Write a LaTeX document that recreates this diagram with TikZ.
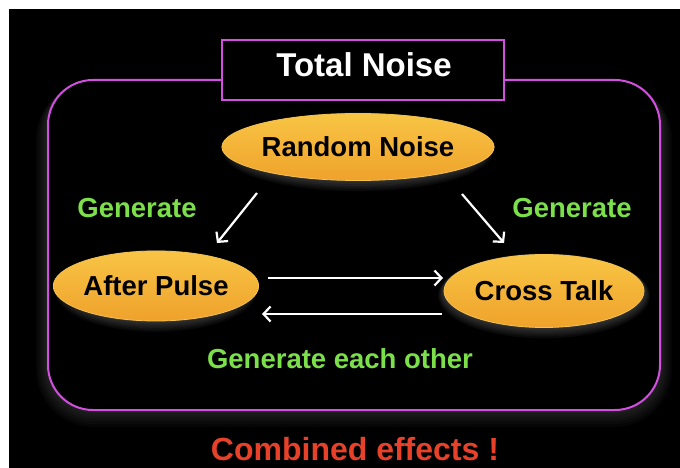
\documentclass[tikz,border=0pt]{standalone}
\usepackage{fontspec}
\setmainfont{Liberation Sans}
\usetikzlibrary{shapes.geometric,arrows.meta}
\definecolor{mag}{HTML}{D24FE0}
\definecolor{lgreen}{HTML}{7BE04A}
\definecolor{lred}{HTML}{E8412A}
\definecolor{otop}{HTML}{F8C545}
\definecolor{obot}{HTML}{EFA22B}
\definecolor{oedge}{HTML}{F6C24E}
\begin{document}
\begin{tikzpicture}[x=1pt,y=-1pt,
  bubble/.style={ellipse, draw=oedge, line width=0.8pt, top color=otop, bottom color=obot,
    inner sep=0pt, text=black, font=\bfseries\fontsize{27.5}{30}\selectfont},
  halo/.style={ellipse, fill=white, opacity=0.035, inner sep=0pt},
  lbl/.style={font=\bfseries\fontsize{27.5}{30}\selectfont, text=lgreen, anchor=base, inner sep=0pt},
  arr/.style={draw=white, line width=2.2pt, -{Straight Barb[length=7pt,width=15pt]}}]
\useasboundingbox (0,0) rectangle (680,468);
\fill[white] (0,0) rectangle (680,468);
\fill[black] (9,9) rectangle (680,468);
% soft shadow of frame
\foreach \d in {2,4,...,12}
  \fill[white, opacity=0.025, rounded corners=45+\d] (48-\d,80+0.2*\d) rectangle (660+\d,410+1.4*\d);
\fill[black, rounded corners=45] (48,80) rectangle (660,410);
\draw[mag, line width=2pt, rounded corners=45] (48,80) rectangle (660,410);
% title
\node[draw=mag, fill=black, line width=2pt, minimum width=282pt, minimum height=60pt, inner sep=0pt] (tbox) at (363,70) {};
\node[font=\bfseries\fontsize{33}{36}\selectfont, text=white, anchor=base, inner sep=0pt] (ttext) at (364,77) {Total Noise};
% ellipse halos
\foreach \d in {2,4,...,12}{
  \node[halo, minimum width=258pt+\d pt, minimum height=67pt+\d pt] at (358,147+0.4*\d) {};
  \node[halo, minimum width=190pt+\d pt, minimum height=70pt+\d pt] at (156,286+0.4*\d) {};
  \node[halo, minimum width=200pt+\d pt, minimum height=73pt+\d pt] at (544,291+0.4*\d) {};
}
% ellipses
\node[bubble, minimum width=258pt, minimum height=67pt] (rn) at (358,147) {Random Noise};
\node[bubble, minimum width=190pt, minimum height=70pt] (ap) at (156,286) {After Pulse};
\node[bubble, minimum width=200pt, minimum height=73pt] (ct) at (544,291) {Cross Talk};
% arrow ends
\coordinate (a1s) at (257,193);
\coordinate (a1e) at (217,243);
\coordinate (a2s) at (462,194);
\coordinate (a2e) at (504,243);
\coordinate (a3s) at (268,278);
\coordinate (a3e) at (443,278);
\coordinate (a4s) at (442,314);
\coordinate (a4e) at (262,314);
\draw[arr] (a1s) -- (a1e);
\draw[arr] (a2s) -- (a2e);
\draw[arr] (a3s) -- (a3e);
\draw[arr] (a4s) -- (a4e);
% labels
\node[lbl] (g1) at (137,217) {Generate};
\node[lbl] (g2) at (572,217) {Generate};
\node[lbl] (g3) at (340,368) {Generate each other};
\node[font=\bfseries\fontsize{32}{35}\selectfont, text=lred, anchor=base, inner sep=0pt] (comb) at (355,460) {Combined effects !};
\end{tikzpicture}
\end{document}
